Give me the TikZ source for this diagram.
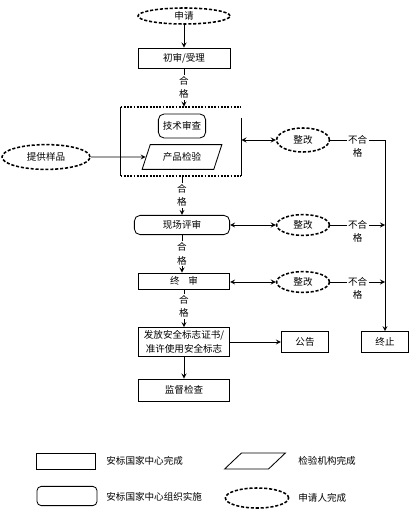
\documentclass[tikz,border=0pt]{standalone}
\usepackage{fontspec}
\setmainfont{Noto Sans CJK SC}
\usetikzlibrary{shapes}

\begin{document}
\begin{tikzpicture}[x=0.025cm,y=-0.025cm,line width=0.6pt,>=stealth,
    every node/.style={font=\fontsize{6.8}{9.5}\selectfont,inner sep=0pt},
    box/.style={rectangle,draw},
    rbox/.style={rectangle,draw,rounded corners=4pt},
    pbox/.style={trapezium,draw,inner sep=1pt,trapezium left angle=66,trapezium right angle=114,trapezium stretches=true},
    ebox/.style={ellipse,draw,line width=1.1pt,dash pattern=on 2.2pt off 1.3pt},
    ok/.style={fill=white,align=center,inner sep=1pt},
    nok/.style={fill=white,align=center,inner sep=1pt,anchor=north,yshift=4.5pt}]
    \useasboundingbox (0,0) rectangle (412,525);
    \node (sq) at (184,16) [ebox,minimum width=2.3cm,minimum height=0.4cm] {申请};
    \node (cs) at (184,58) [box,minimum width=2.3cm,minimum height=0.5cm] {初审/受理};
    \node (jc) at (181,141.5) [minimum width=3cm,minimum height=1.72cm] {};
    \draw[line width=1.3pt] (jc.north west) -- (jc.south west);
    \draw[line width=1.3pt] ([yshift=-8pt]jc.north east) -- (jc.south east);
    \draw[line width=1.3pt,densely dotted] (jc.north west) -- (jc.north east);
    \draw[line width=1.3pt,densely dotted] (jc.south west) -- (jc.south east);
    \node (js) at (182,126) [rbox,minimum width=1.18cm,minimum height=0.6cm] {技术审查};
    \node (cj) at (182,157) [pbox,minimum width=2cm,minimum height=0.62cm] {产品检验};
    \node (tg) at (46,157) [ebox,minimum width=2.2cm,minimum height=0.62cm] {提供样品};
    \node (zg1) at (303,140) [ebox,minimum width=1.32cm,minimum height=0.6cm] {整改};
    \node (xc) at (182,225) [rbox,minimum width=2.38cm,minimum height=0.48cm] {现场评审};
    \node (zg2) at (303,225) [ebox,minimum width=1.32cm,minimum height=0.52cm] {整改};
    \node (zs) at (184,281) [box,minimum width=2.28cm,minimum height=0.4cm] {终\hspace{0.9em}审};
    \node (zg3) at (303,282) [ebox,minimum width=1.32cm,minimum height=0.52cm] {整改};
    \node (ff) at (184,342) [box,minimum width=2.28cm,minimum height=0.72cm,align=center] {发放安全标志证书/\\准许使用安全标志};
    \node (gg) at (305,342) [box,minimum width=1.18cm,minimum height=0.52cm] {公告};
    \node (zz) at (385,342) [box,minimum width=1.18cm,minimum height=0.52cm] {终止};
    \node (jd) at (184,390) [box,minimum width=2.28cm,minimum height=0.55cm] {监督检查};
    \coordinate (zd) at (385,140);

    \draw[->] (sq) -- (cs);
    \draw[->] (cs.south) -- node[ok] {合\\格} (cs.south |- jc.north);
    \draw[->] (tg.east) -- (cj.west);
    \draw[<->] (zg1.west -| jc.east) -- (zg1.west);
    \draw (zg1.east) -- node[nok] {不合\\格} (zd);
    \draw[->] (zd) -- (zz.north);
    \draw[->] (xc.north |- jc.south) -- node[ok] {合\\格} (xc.north);
    \draw[<->] (zg2.west -| xc.east) -- (zg2.west);
    \draw[->] (zg2.east) -- node[nok] {不合\\格} (zg2.east -| zd);
    \draw[->] (xc.south) -- node[ok] {合\\格} (xc.south |- zs.north);
    \draw[<->] (zg3.west -| zs.east) -- (zg3.west);
    \draw[->] (zg3.east) -- node[nok] {不合\\格} (zg3.east -| zd);
    \draw[->] (zs.south) -- node[ok,pos=0.45] {合\\格} (ff.north);
    \draw[->] (ff.east) -- (gg.west);
    \draw[->] (ff.south) -- (jd.north);

    % legend
    \node (l1) at (66,461) [box,minimum width=1.48cm,minimum height=0.4cm] {};
    \node (t1) at (106,461) [anchor=west] {安标国家中心完成};
    \node (l2) at (255,461) [pbox,trapezium left angle=58,trapezium right angle=122,minimum width=1.52cm,minimum height=0.4cm] {};
    \node (t2) at (298,461) [anchor=west] {检验机构完成};
    \node (l3) at (67,496) [rbox,rounded corners=3pt,minimum width=1.5cm,minimum height=0.48cm] {};
    \node (t3) at (106,497) [anchor=west] {安标国家中心组织实施};
    \node (l4) at (257,498) [ebox,minimum width=1.58cm,minimum height=0.5cm] {};
    \node (t4) at (298,498) [anchor=west] {申请人完成};
\end{tikzpicture}
\end{document}
